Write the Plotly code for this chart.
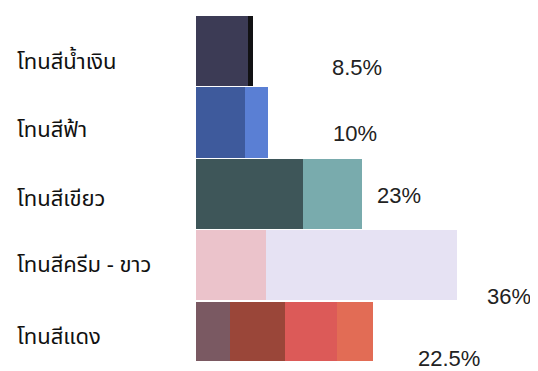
import plotly.graph_objects as go

# categories top to bottom
categories = ["โทนสีน้ำเงิน", "โทนสีฟ้า", "โทนสีเขียว", "โทนสีครีม - ขาว", "โทนสีแดง"]
percent_labels = ["8.5%", "10%", "23%", "36%", "22.5%"]

# colour swatch segments of each bar (length, % units)
segments = [
    [7.17, 0.69],
    [6.76, 3.17],
    [14.76, 8.14],
    [9.66, 26.34],
    [4.69, 7.59, 7.17, 4.97],
]
segment_colors = [
    ["#3c3b55", "#121214"],
    ["#3e5a9c", "#5a7fd4"],
    ["#3e5659", "#79abad"],
    ["#ebc3cb", "#e6e2f3"],
    ["#7a5962", "#9a4639", "#dc5a58", "#e26c55"],
]

# label placement tweaks (pixels)
label_dx = [104, 87, 37, 52, 76]
label_dy = [-16, -11, -2, -31, -22]
cat_dy = [-11, -8, -6, 0, -1]

fig = go.Figure()
max_segs = max(len(s) for s in segments)
for k in range(max_segs):
    xs, ys, cs = [], [], []
    for i, segs in enumerate(segments):
        if k < len(segs):
            xs.append(segs[k])
            ys.append(i)
            cs.append(segment_colors[i][k])
    fig.add_trace(go.Bar(
        x=xs, y=ys, orientation="h",
        marker=dict(color=cs, line=dict(width=0)),
        showlegend=False, hoverinfo="skip",
    ))

for i, segs in enumerate(segments):
    fig.add_annotation(
        x=sum(segs), y=i, text=percent_labels[i], showarrow=False,
        xanchor="center", yanchor="middle",
        xshift=label_dx[i], yshift=label_dy[i],
        font=dict(family="Liberation Sans, Arial", size=22, color="#222222"),
    )
    fig.add_annotation(
        x=0, xref="paper", y=i, text=categories[i], showarrow=False,
        xanchor="left", yanchor="middle",
        xshift=-181, yshift=cat_dy[i],
        font=dict(family="Noto Sans Thai, Loma, Tahoma, Noto Sans, sans-serif",
                  size=22, color="#111111"),
    )

# page body adds an 8px offset, so the figure is 8px smaller
fig.update_layout(
    width=530, height=363,
    margin=dict(l=188, r=0, t=8, b=10),
    barmode="stack", bargap=0.015,
    plot_bgcolor="white", paper_bgcolor="white",
    xaxis=dict(range=[0, 47.17], visible=False),
    yaxis=dict(range=[4.34, -0.49], visible=False),
)

fig.write_html("out.html")
